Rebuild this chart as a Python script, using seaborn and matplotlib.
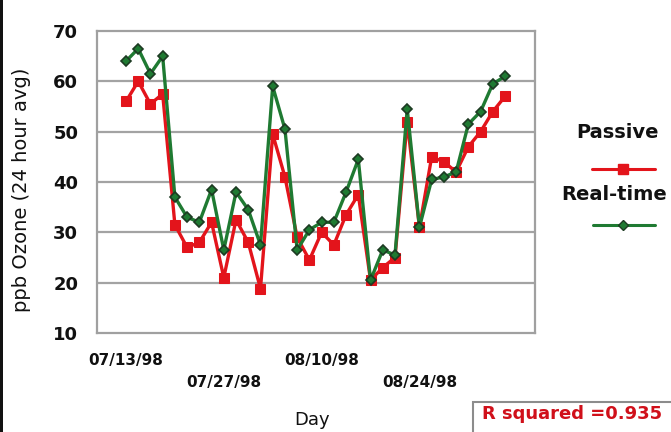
import matplotlib
matplotlib.use("Agg")
import matplotlib.pyplot as plt
import seaborn as sns
import pandas as pd
from matplotlib.lines import Line2D
from matplotlib.patches import Rectangle

# ---- data ----
passive = [56, 60, 55.5, 57.5, 31.5, 27, 28, 32, 21, 32.5, 28, 18.8, 49.5, 41,
           29, 24.5, 30, 27.5, 33.5, 37.5, 20.5, 23, 25, 52, 31, 45, 44, 42,
           47, 50, 54, 57]
realtime = [64, 66.5, 61.5, 65, 37, 33, 32, 38.5, 26.5, 38, 34.5, 27.5, 59, 50.5,
            26.5, 30.5, 32, 32, 38, 44.5, 20.5, 26.5, 25.5, 54.5, 31, 40.5, 41, 42,
            51.5, 54, 59.5, 61]
series_names = ["Passive", "Real-time"]
tick_index = [0, 8, 16, 24]
tick_labels = ["07/13/98", "07/27/98", "08/10/98", "08/24/98"]
y_ticks = [10, 20, 30, 40, 50, 60, 70]

day = list(range(len(passive)))
df = pd.DataFrame({
    "day": day * 2,
    "ozone": passive + realtime,
    "series": [series_names[0]] * len(passive) + [series_names[1]] * len(realtime),
})

RED = "#e3141b"
GREEN = "#1f7a32"
DARK = "#1d3a22"
TXT = "#111111"

sns.set_theme(style="white")
plt.rcParams["font.family"] = ["DejaVu Sans"]

fig = plt.figure(figsize=(6.71, 4.32), dpi=100)
ax = fig.add_axes([97 / 671, 1 - 333 / 432, (535 - 97) / 671, (333 - 31) / 432])

sns.lineplot(data=df[df.series == series_names[0]], x="day", y="ozone", ax=ax,
             color=RED, lw=2.4, marker="s", markersize=7, markeredgecolor=RED,
             markerfacecolor=RED, legend=False)
sns.lineplot(data=df[df.series == series_names[1]], x="day", y="ozone", ax=ax,
             color=GREEN, lw=2.4, marker="D", markersize=5, markeredgecolor=DARK,
             markerfacecolor=GREEN, markeredgewidth=1.2, legend=False)

ax.set_xlim(-2.37, 33.45)
ax.set_ylim(10, 70)
ax.set_yticks(y_ticks)
ax.set_yticklabels([str(v) for v in y_ticks], fontsize=13, fontweight="bold",
                   color=TXT)
ax.tick_params(axis="y", length=0, pad=13.5)
ax.set_xticks(tick_index)
ax.set_xticklabels([])
ax.tick_params(axis="x", length=0)
for i, (pos, lab) in enumerate(zip(tick_index, tick_labels)):
    ax.annotate(lab, xy=(pos, 0), xycoords=("data", "axes fraction"),
                xytext=(0, -27 if i % 2 == 0 else -49), textcoords="offset pixels",
                ha="center", va="center", fontsize=11, fontweight="bold",
                color=TXT)

for v in y_ticks[1:-1]:
    ax.axhline(v, color="#a3a3a3", lw=1.6, zorder=0)
for s in ax.spines.values():
    s.set_visible(True)
    s.set_color("#a0a0a0")
    s.set_linewidth(1.6)

ax.set_xlabel("")
ax.set_ylabel("")
fig.text(22 / 671, 1 - 190 / 432, "ppb Ozone (24 hour avg)", rotation=90,
         ha="center", va="center", fontsize=14, color=TXT)
fig.text(312 / 671, 1 - 420 / 432, "Day", ha="center", va="center",
         fontsize=13, color=TXT)

# legend (Excel style: name above line sample)
fig.text(617 / 671, 1 - 133 / 432, series_names[0], ha="center", va="center",
         fontsize=14, fontweight="bold", color=TXT)
fig.add_artist(Line2D([592 / 671, 655 / 671], [1 - 169 / 432] * 2, color=RED, lw=2.2,
                      transform=fig.transFigure))
fig.add_artist(Line2D([623 / 671], [1 - 169 / 432], color=RED, marker="s",
                      markersize=7, transform=fig.transFigure))
fig.text(614 / 671, 1 - 195 / 432, series_names[1], ha="center", va="center",
         fontsize=14, fontweight="bold", color=TXT)
fig.add_artist(Line2D([593 / 671, 655 / 671], [1 - 225 / 432] * 2, color=GREEN, lw=2.2,
                      transform=fig.transFigure))
fig.add_artist(Line2D([623 / 671], [1 - 225 / 432], color=GREEN, marker="D",
                      markersize=5, markeredgecolor=DARK, transform=fig.transFigure))

# R squared box
fig.add_artist(Rectangle((473 / 671, -0.05), 0.3, 1 - 402 / 432 + 0.05,
                         transform=fig.transFigure, facecolor="white",
                         edgecolor="#8c8c8c", lw=1.5))
fig.text(482 / 671, 1 - 414 / 432, "R squared =0.935", ha="left", va="center",
         fontsize=13, fontweight="bold", color="#d0101a")

# dark left edge of the image
fig.add_artist(Rectangle((0, 0), 3 / 671, 1, transform=fig.transFigure,
                         facecolor="#111111", edgecolor="none"))

fig.savefig("out.png", dpi=100)
